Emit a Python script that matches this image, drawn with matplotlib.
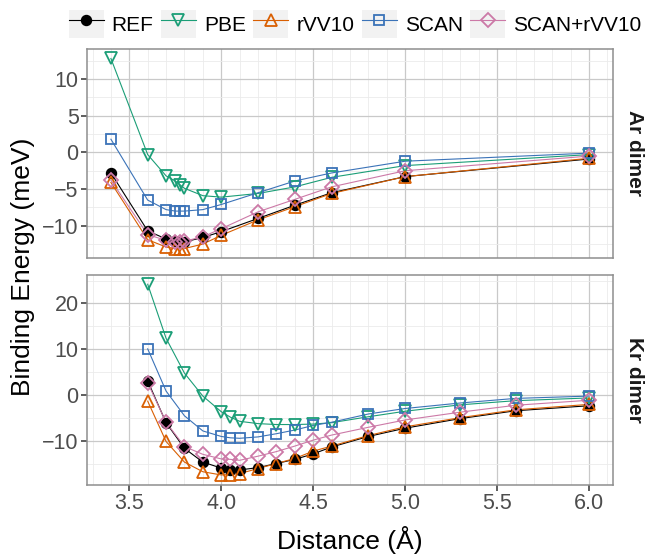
import matplotlib
matplotlib.use("Agg")
import matplotlib.pyplot as plt
from matplotlib.lines import Line2D
from matplotlib.patches import Rectangle
from matplotlib.legend_handler import HandlerLine2D
from matplotlib.ticker import MultipleLocator
import numpy as np

plt.rcParams['font.family'] = ['Liberation Sans', 'DejaVu Sans']

methods = ["REF", "PBE", "rVV10", "SCAN", "SCAN+rVV10"]
colors = ["#000000", "#1B9E77", "#D95F02", "#3B73B8", "#CC79A7"]

# ---- Ar dimer ----
ar_x = [3.4, 3.6, 3.7, 3.75, 3.775, 3.8, 3.9, 4.0, 4.2, 4.4, 4.6, 5.0, 6.0]
ar_ref = [-2.8, -10.7, -11.8, -12.1, -12.2, -12.2, -11.6, -10.8, -9.0, -7.2, -5.5, -3.3, -0.9]
ar_pbe = [12.8, -0.3, -3.2, -3.9, -4.4, -4.9, -5.9, -6.1, -5.6, -4.7, -3.4, -1.8, -0.3]
ar_rvv10 = [-4.1, -11.9, -12.9, -13.1, -13.1, -13.1, -12.5, -11.3, -9.2, -7.4, -5.6, -3.3, -0.8]
ar_scan = [1.8, -6.5, -7.8, -8.0, -8.0, -8.0, -7.8, -7.1, -5.5, -3.9, -2.8, -1.2, -0.1]
ar_scanrvv10 = [-3.8, -11.2, -12.0, -12.2, -12.2, -12.1, -11.5, -10.4, -8.1, -6.4, -4.7, -2.5, -0.5]

# ---- Kr dimer ----
kr_x = [3.6, 3.7, 3.8, 3.9, 4.0, 4.05, 4.1, 4.2, 4.3, 4.4, 4.5, 4.6, 4.8, 5.0, 5.3, 5.6, 6.0]
kr_ref = [3.1, -6.0, -11.6, -14.6, -15.9, -16.3, -16.3, -15.8, -14.9, -14.0, -12.8, -11.3, -9.0, -7.2, -5.1, -3.4, -2.3]
kr_pbe = [24.2, 12.4, 4.8, -0.2, -3.6, -4.8, -5.7, -6.2, -6.4, -6.4, -6.3, -6.0, -4.7, -3.5, -2.1, -1.2, -0.6]
kr_rvv10 = [-1.3, -10.1, -14.6, -16.7, -17.4, -17.3, -17.1, -16.0, -14.9, -13.8, -12.2, -11.1, -8.8, -6.9, -4.9, -3.2, -2.0]
kr_scan = [10.1, 0.9, -4.5, -7.8, -9.0, -9.3, -9.4, -9.1, -8.4, -7.6, -6.6, -5.9, -4.1, -2.9, -1.7, -0.7, -0.2]
kr_scanrvv10 = [2.7, -5.9, -11.2, -12.9, -13.9, -14.0, -14.2, -13.3, -12.3, -11.1, -9.8, -8.7, -7.0, -5.4, -3.7, -2.2, -1.1]

panels = [
    ("Ar dimer", ar_x, [ar_ref, ar_pbe, ar_rvv10, ar_scan, ar_scanrvv10], 5, [-10, -5, 0, 5, 10]),
    ("Kr dimer", kr_x, [kr_ref, kr_pbe, kr_rvv10, kr_scan, kr_scanrvv10], 10, [-10, 0, 10, 20]),
]

x_ticks = [3.5, 4.0, 4.5, 5.0, 5.5, 6.0]

marker_style = {
    "REF": dict(marker="o", markersize=7.2, mfc="#000000", mec="#000000", mew=1.0),
    "PBE": dict(marker="v", markersize=8.5, mfc="none", mew=1.3),
    "rVV10": dict(marker="^", markersize=8.5, mfc="none", mew=1.3),
    "SCAN": dict(marker="s", markersize=7.6, mfc="none", mew=1.3),
    "SCAN+rVV10": dict(marker="D", markersize=7.0, mfc="none", mew=1.3),
}

W, H = 655, 554
fig = plt.figure(figsize=(W / 100, H / 100), dpi=100)

left, right = 87, 613
boxes = [(49, 258), (274.7, 484.5)]

grid_major = "#C9C9C9"
grid_minor = "#EBEBEB"
border = "#8E8E8E"
tick_col = "#4D4D4D"

all_x = ar_x + kr_x
xr = max(all_x) - min(all_x)
xlim = (min(all_x) - 0.05 * xr, max(all_x) + 0.05 * xr)

axes = []
for i, (name, xs, series, ystep, yticks) in enumerate(panels):
    top, bot = boxes[i]
    ax = fig.add_axes([left / W, 1 - bot / H, (right - left) / W, (bot - top) / H])
    axes.append(ax)
    # lines first
    for m, c, ys in zip(methods, colors, series):
        ax.plot(xs, ys, color=c, lw=0.8, zorder=2)
    for m, c, ys in zip(methods, colors, series):
        st = dict(marker_style[m])
        if m != "REF":
            st["mec"] = c
        ax.plot(xs, ys, linestyle="none", zorder=3, **st)
    allv = [v for s in series for v in s]
    yr = max(allv) - min(allv)
    ax.set_ylim(min(allv) - 0.05 * yr, max(allv) + 0.05 * yr)
    ax.set_xlim(*xlim)
    ax.set_yticks(yticks)
    ax.yaxis.set_minor_locator(MultipleLocator(ystep / 2))
    ax.set_xticks(x_ticks)
    ax.xaxis.set_minor_locator(MultipleLocator(0.1))
    ax.grid(which="major", color=grid_major, lw=0.9, zorder=0)
    ax.grid(which="minor", color=grid_minor, lw=0.6, zorder=0)
    ax.set_axisbelow(True)
    for sp in ax.spines.values():
        sp.set_color(border)
        sp.set_linewidth(1.1)
    ax.tick_params(which="minor", length=0)
    ax.tick_params(axis="y", which="major", length=4, width=1.1, color="#333333",
                   labelsize=15.5, labelcolor=tick_col, pad=2)
    if i == 0:
        ax.tick_params(axis="x", which="major", length=0, labelbottom=False)
    else:
        ax.set_xticklabels([f"{t:.1f}" for t in x_ticks])
        ax.tick_params(axis="x", which="major", length=4, width=1.1, color="#333333",
                       labelsize=15.5, labelcolor=tick_col, pad=2)
    ax.text(1.0418, 0.5, name, transform=ax.transAxes, rotation=-90,
            ha="center", va="center", fontsize=15, fontweight="bold", color="#1A1A1A")

fig.text(23 / W, 1 - 267 / H, "Binding Energy (meV)", rotation=90,
         ha="center", va="center", fontsize=19)
fig.text(350 / W, 1 - 540 / H, "Distance (Å)", ha="center", va="center", fontsize=19)


class KeyHandler(HandlerLine2D):
    def create_artists(self, legend, orig_handle, xdescent, ydescent, width, height, fontsize, trans):
        arts = super().create_artists(legend, orig_handle, xdescent, ydescent, width, height, fontsize, trans)
        rect = Rectangle((-xdescent, -ydescent - 0.5 * height * 0.0), width, height,
                         facecolor="#F2F2F2", edgecolor="none", transform=trans, zorder=0)
        return [rect] + list(arts)


handles = []
for m, c in zip(methods, colors):
    st = dict(marker_style[m])
    if m != "REF":
        st["mec"] = c
    handles.append(Line2D([], [], color=c, lw=0.8, **st))

leg = fig.legend(handles, methods, loc="center", bbox_to_anchor=(355 / W, 1 - 24 / H),
                 ncol=5, frameon=False, fontsize=15, handlelength=1.68, handleheight=1.73,
                 handletextpad=0.38, columnspacing=0.36, borderpad=0, borderaxespad=0,
                 numpoints=1, handler_map={Line2D: KeyHandler(numpoints=1)})

fig.savefig("out.png", dpi=100)
